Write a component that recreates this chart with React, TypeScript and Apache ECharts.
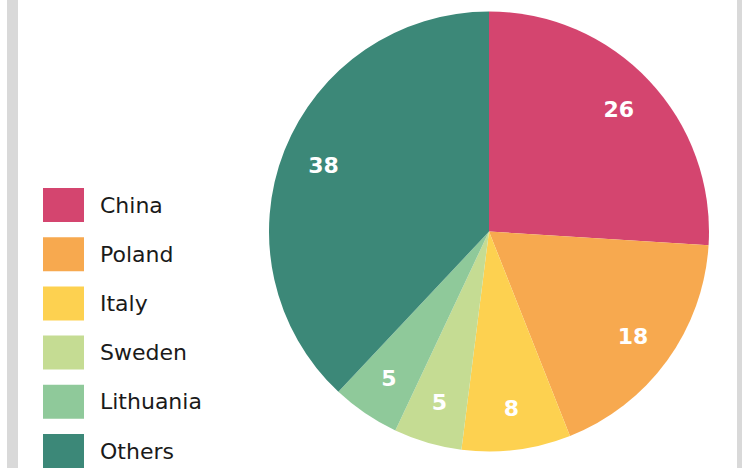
import React, { useEffect, useRef } from "react";
import * as echarts from "echarts";

const categories = ["China", "Poland", "Italy", "Sweden", "Lithuania", "Others"];
const values = [26, 18, 8, 5, 5, 38];
const colors = ["#d4456f", "#f7a94f", "#fdd150", "#c5dc93", "#8fc99a", "#3c8878"];

export default function App() {
  const ref = useRef<HTMLDivElement>(null);
  useEffect(() => {
    const chart = echarts.init(ref.current!, null, { renderer: "svg" });
    const data = categories.map((name, i) => ({
      name,
      value: values[i],
      itemStyle: { color: colors[i] },
    }));
    chart.setOption({
      animation: false,
      backgroundColor: "#ffffff",
      graphic: [
        { type: "rect", left: 7, top: 0, shape: { width: 11, height: 468 }, style: { fill: "#d9d9d9" }, silent: true },
        { type: "rect", left: 737, top: 0, shape: { width: 5, height: 468 }, style: { fill: "#d9d9d9" }, silent: true },
      ],
      legend: {
        orient: "vertical",
        left: 43,
        top: 188,
        height: 600,
        padding: 0,
        itemWidth: 41,
        itemHeight: 34,
        itemGap: 15.2,
        icon: "rect",
        data: categories,
        textStyle: {
          fontFamily: "DejaVu Sans",
          fontSize: 22,
          color: "#1a1a1a",
          padding: [0, 0, 0, 11],
        },
      },
      series: [
        {
          type: "pie",
          center: [489, 231.5],
          radius: [0, 220],
          startAngle: 90,
          clockwise: true,
          data,
          label: { show: false },
          labelLine: { show: false },
          emphasis: { disabled: true },
        },
        {
          type: "pie",
          center: [489, 231.5],
          radius: [130, 220],
          startAngle: 90,
          clockwise: true,
          silent: true,
          legendHoverLink: false,
          data: categories.map((name, i) => ({ name, value: values[i] })),
          itemStyle: { color: "transparent", borderWidth: 0 },
          label: {
            show: true,
            position: "inside",
            formatter: "{c}",
            color: "#ffffff",
            opacity: 1,
            fontFamily: "DejaVu Sans",
            fontWeight: "bold",
            fontSize: 22,
          },
          labelLine: { show: false },
          emphasis: { disabled: true },
        },
      ],
    });
    return () => chart.dispose();
  }, []);
  return (
    <div
      ref={ref}
      style={{ position: "fixed", left: 0, top: 0, width: 742, height: 468 }}
    />
  );
}
